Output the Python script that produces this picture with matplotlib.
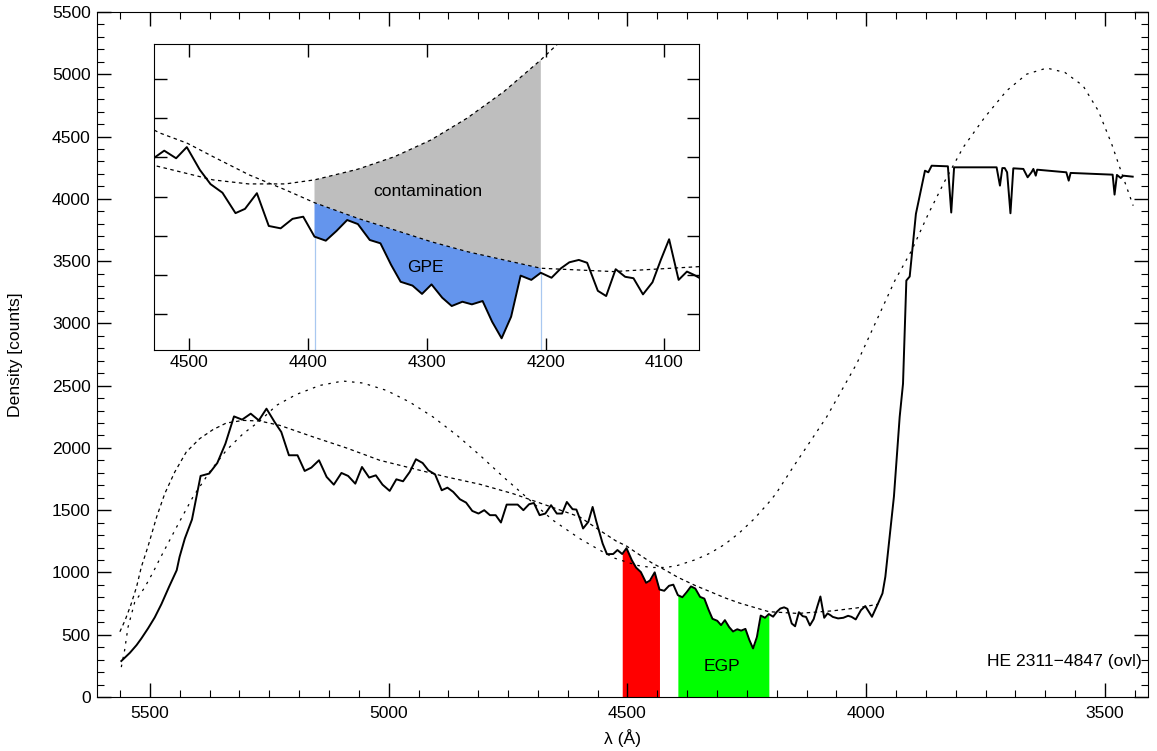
import matplotlib.pyplot as plt
from matplotlib.ticker import MultipleLocator
import numpy as np

plt.rcParams['font.family'] = ['Liberation Sans', 'DejaVu Sans']
FS = 12.6

# objective-prism spectrum: wavelength [A] and density [counts] at each pixel
wave = [5560, 5542, 5528, 5518, 5504, 5490, 5476, 5460, 5444, 5438,
        5427, 5412, 5394, 5376, 5359, 5342, 5324, 5307, 5289, 5272,
        5256, 5239, 5225, 5209, 5191, 5176, 5162, 5146, 5130, 5115,
        5099, 5085, 5070, 5056, 5041, 5027, 5013, 4998, 4984, 4970,
        4956, 4943, 4929, 4917, 4903, 4889, 4877, 4865, 4851, 4838,
        4825, 4812, 4800, 4788, 4776, 4765, 4753, 4741, 4730, 4718,
        4706, 4696, 4684, 4672, 4660, 4648, 4637, 4627, 4615, 4607,
        4600, 4593, 4582, 4573, 4565, 4552, 4543, 4530, 4521, 4511,
        4502, 4491, 4482, 4472, 4461, 4453, 4443, 4433, 4423, 4413,
        4404, 4394.5, 4385, 4376, 4367, 4358, 4348, 4339, 4330, 4322,
        4312, 4304, 4296, 4287, 4279, 4270, 4262, 4253, 4245, 4237,
        4229, 4221, 4212, 4204, 4195, 4187, 4180, 4172, 4165, 4156,
        4149, 4141, 4133, 4126, 4118, 4110, 4103, 4096, 4088, 4081,
        4075, 4070, 4059, 4048, 4038, 4031, 4022, 4011, 4002, 3988,
        3976, 3966, 3960, 3942, 3930, 3923, 3916, 3909, 3896, 3877,
        3870, 3863, 3829, 3822, 3816, 3727, 3720, 3715, 3710, 3705,
        3698, 3692, 3671, 3662, 3654, 3650, 3645, 3642, 3581, 3576,
        3572, 3484, 3480, 3475, 3467, 3462, 3442]
dens = [289, 355, 417, 470, 551, 639, 746, 885, 1018, 1125,
        1272, 1425, 1775, 1794, 1879, 2034, 2253, 2227, 2275, 2221,
        2315, 2208, 2128, 1941, 1941, 1815, 1842, 1901, 1767, 1705,
        1799, 1775, 1713, 1847, 1762, 1780, 1705, 1655, 1748, 1732,
        1807, 1909, 1879, 1820, 1788, 1660, 1681, 1647, 1588, 1561,
        1494, 1473, 1500, 1460, 1460, 1401, 1545, 1545, 1545, 1500,
        1548, 1558, 1460, 1473, 1540, 1473, 1473, 1566, 1508, 1505,
        1435, 1353, 1406, 1526, 1406, 1232, 1147, 1148, 1180, 1148,
        1195, 1099, 1039, 1003, 917, 935, 1001, 863, 853, 893,
        902, 818, 801, 842, 888, 871, 804, 790, 699, 628,
        612, 577, 617, 561, 526, 544, 533, 547, 460, 390,
        481, 654, 636, 666, 645, 685, 710, 720, 708, 590,
        568, 681, 649, 643, 575, 626, 720, 807, 636, 671,
        657, 643, 631, 636, 652, 644, 623, 698, 730, 644,
        745, 832, 965, 1610, 2248, 2515, 3344, 3376, 3879, 4226,
        4213, 4266, 4261, 3890, 4253, 4253, 4106, 4247, 4247, 4213,
        3884, 4245, 4240, 4173, 4213, 4240, 4186, 4234, 4213, 4146,
        4208, 4194, 4034, 4192, 4167, 4186, 4178]

# continuum estimate
cont_wave = [5563, 5552, 5540, 5528, 5518, 5504, 5486, 5469, 5448, 5424,
             5396, 5368, 5340, 5305, 5270, 5228, 5158, 5088, 5019, 4949,
             4879, 4809, 4740, 4670, 4600, 4558, 4524.5, 4501.5, 4480, 4449.5,
             4419, 4394.5, 4358, 4327, 4296.5, 4266, 4235, 4204, 4143, 4070,
             4020, 3975]
cont_dens = [524, 617, 740, 885, 1045, 1210, 1446, 1633, 1807, 1967,
             2074, 2147, 2200, 2221, 2216, 2181, 2088, 1999, 1901, 1834,
             1767, 1708, 1633, 1540, 1446, 1338, 1254, 1211, 1155, 1078,
             1015, 961, 895, 846, 797, 755, 720, 685, 671, 692,
             715, 745]

# polynomial fit
poly_wave = [5560, 5553, 5546, 5532, 5511, 5493, 5479, 5444, 5410, 5375,
             5340, 5305, 5270, 5235, 5193, 5144, 5096, 5054, 5005, 4956,
             4907, 4857, 4809, 4760, 4712, 4656, 4600, 4558, 4528, 4480,
             4450, 4419, 4394.5, 4358, 4327, 4296.5, 4266, 4235, 4204, 4189,
             4153, 4083, 4020, 3980, 3940, 3905, 3870, 3835, 3797, 3752,
             3706, 3664, 3622, 3584, 3546, 3514, 3486, 3462, 3441]
poly_dens = [240, 377, 560, 760, 880, 1005, 1112, 1366, 1606, 1807,
             1981, 2114, 2216, 2342, 2430, 2502, 2537, 2521, 2462, 2368,
             2248, 2101, 1941, 1767, 1606, 1419, 1272, 1179, 1116, 1057,
             1040, 1040, 1057, 1102, 1155, 1225, 1317, 1429, 1562, 1633,
             1847, 2248, 2676, 3010, 3344, 3585, 3879, 4146, 4413, 4654,
             4868, 5001, 5050, 5015, 4908, 4707, 4440, 4173, 3945]

red_band = (4432, 4511)
egp_band = (4204, 4394.5)

wave = np.array(wave)
dens = np.array(dens)
cont_wave = np.array(cont_wave)
cont_dens = np.array(cont_dens)
poly_wave = np.array(poly_wave)
poly_dens = np.array(poly_dens)

cont_style = dict(color='k', lw=0.9, ls=(0, (2.8, 2.8)))
poly_style = dict(color='k', lw=0.9, ls=(0, (2.0, 4.4)))

fig = plt.figure(figsize=(11.57, 7.51), dpi=100)
ax = fig.add_axes([0.0838, 0.0719, 0.9084, 0.9121])

m = (wave >= red_band[0]) & (wave <= red_band[1])
ax.fill_between(wave[m], 0, dens[m], color='#ff0000', lw=0, zorder=1)
m = (wave >= egp_band[0]) & (wave <= egp_band[1])
ax.fill_between(wave[m], 0, dens[m], color='#00ff00', lw=0, zorder=1)

ax.plot(cont_wave, cont_dens, zorder=2, **cont_style)
ax.plot(poly_wave, poly_dens, zorder=2, **poly_style)
ax.plot(wave, dens, color='k', lw=1.4, zorder=3)

ax.set_xlim(5611, 3410)
ax.set_ylim(0, 5500)
ax.xaxis.set_major_locator(MultipleLocator(500))
ax.xaxis.set_minor_locator(MultipleLocator(62.5))
ax.yaxis.set_major_locator(MultipleLocator(500))
ax.yaxis.set_minor_locator(MultipleLocator(100))
ax.tick_params(which='both', direction='in', top=True, right=True, labelsize=FS)
ax.tick_params(which='major', length=10, width=1)
ax.tick_params(which='minor', length=5, width=0.8)
ax.tick_params(axis='x', pad=6.5)
ax.tick_params(axis='y', pad=4.5)
ax.set_xlabel('λ (Å)', fontsize=FS, labelpad=6)
ax.set_ylabel('Density [counts]', fontsize=FS, labelpad=21)

ax.text(4303, 243, 'EGP', ha='center', va='center', fontsize=FS)
ax.text(3422, 283, 'HE 2311\u22124847 (ovl)', ha='right', va='center', fontsize=FS)

# zoom on the G band region
ins = fig.add_axes([0.1327, 0.5340, 0.4717, 0.4071])
ins.set_xlim(4530, 4070.6)
ins.set_ylim(341, 1628)

pm = (poly_wave >= egp_band[0]) & (poly_wave <= egp_band[1])
cm = (cont_wave >= egp_band[0]) & (cont_wave <= egp_band[1])
sm = (wave >= egp_band[0]) & (wave <= egp_band[1])

gx = np.concatenate([poly_wave[pm], cont_wave[cm][::-1]])
gy = np.concatenate([poly_dens[pm], cont_dens[cm][::-1]])
ins.fill(gx, gy, color='#bebebe', lw=0, zorder=1)

bx = np.concatenate([cont_wave[cm], wave[sm][::-1]])
by = np.concatenate([cont_dens[cm], dens[sm][::-1]])
ins.fill(bx, by, color='#6495ed', lw=0, zorder=1)

edge_dens = [dens[wave == w][0] for w in egp_band]
ins.vlines(egp_band, 341, edge_dens, color='#a9c8f0', lw=0.9, zorder=1)

ins.plot(cont_wave, cont_dens, zorder=2, **cont_style)
ins.plot(poly_wave, poly_dens, zorder=2, **cont_style)
ins.plot(wave, dens, color='k', lw=1.4, zorder=3)

ins.xaxis.set_major_locator(MultipleLocator(100))
ins.set_yticks(np.arange(492, 1500, 165))
ins.set_yticklabels([])
ins.tick_params(direction='in', top=True, right=True, length=9, width=1,
                labelsize=FS, pad=3.5)

ins.text(4299.5, 1008, 'contamination', ha='center', va='center', fontsize=FS)
ins.text(4301, 689, 'GPE', ha='center', va='center', fontsize=FS)

fig.savefig('out.png', dpi=100)
